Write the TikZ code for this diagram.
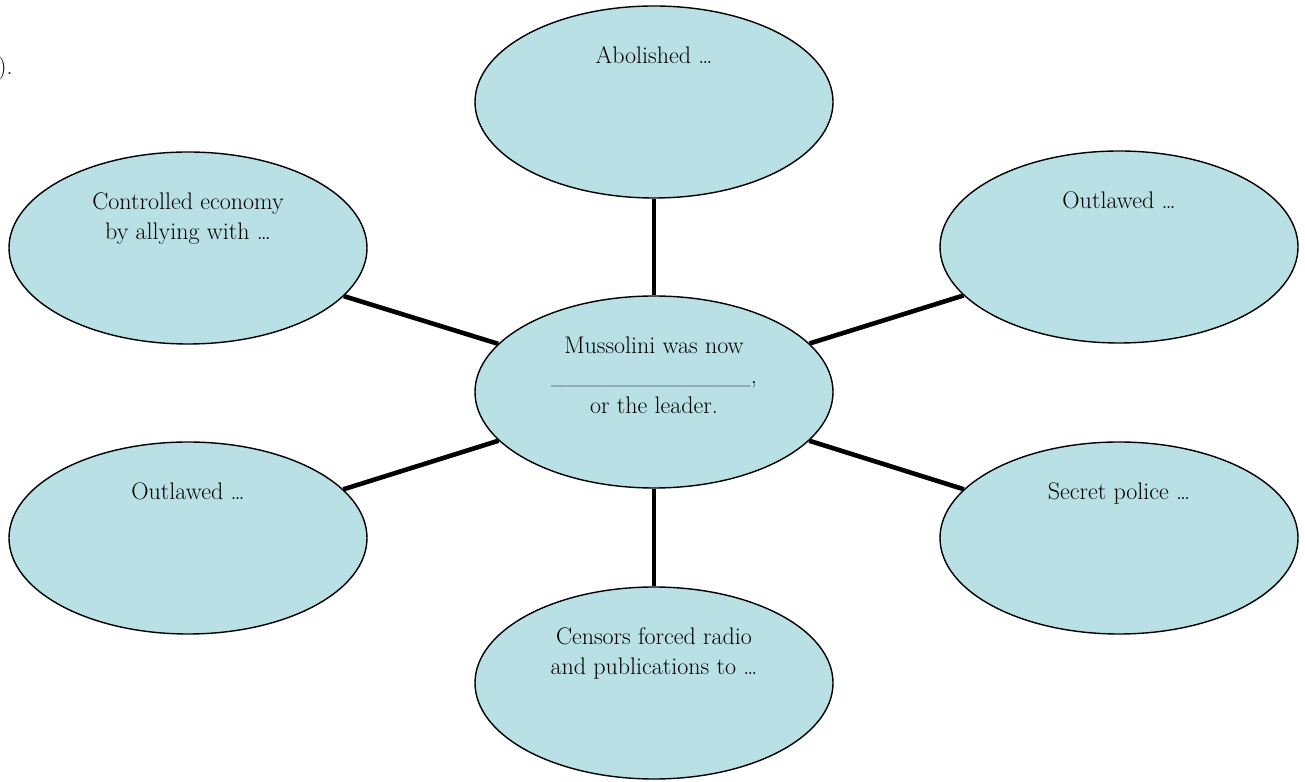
\documentclass[tikz,border=0pt]{standalone}
\usetikzlibrary{positioning,shapes.geometric}
\definecolor{Bubble}{HTML}{B9E0E4}

\begin{document}
\begin{tikzpicture}[x=1pt,y=1pt,node distance=41pt,
    bubble/.style={draw,ellipse,fill=Bubble,line width=1.4pt,minimum width=358pt,minimum height=192pt,inner sep=0pt},
    spoke/.style={line width=4.6pt},
    txt/.style={font=\fontsize{24}{30}\selectfont,align=center,inner sep=0pt}]
    \useasboundingbox (0,0) rectangle (1305,781);
    % the hub and its six bubbles
    \node[bubble] (ctr) at (654,389) {};
    \node[bubble,on grid,above=290pt of ctr] (abol) {};
    \node[bubble,on grid,below=291pt of ctr] (cens) {};
    \node[bubble,on grid,above left=144pt and 466pt of ctr] (econ) {};
    \node[bubble,on grid,above right=145pt and 465pt of ctr] (outR) {};
    \node[bubble,on grid,below left=146pt and 466pt of ctr] (outL) {};
    \node[bubble,on grid,below right=146pt and 465pt of ctr] (secP) {};
    \foreach \n in {abol,econ,outR,outL,secP,cens}
      \draw[spoke] (ctr) -- (\n);
    % texts sit near the top of each bubble
    \node[txt,below=of ctr.north] (ctrT) {Mussolini was now\\\_\_\_\_\_\_\_\_\_\_\_\_,\\or the leader.};
    \node[txt,below=of abol.north] (abolT) {Abolished \ldots};
    \node[txt,below=of econ.north] (econT) {Controlled economy\\by allying with \ldots};
    \node[txt,below=of outR.north] (outRT) {Outlawed \ldots};
    \node[txt,below=of outL.north] (outLT) {Outlawed \ldots};
    \node[txt,below=of secP.north] (secPT) {Secret police \ldots};
    \node[txt,below=of cens.north] (censT) {Censors forced radio\\and publications to \ldots};
    \node[txt,anchor=base west] (frag) at (-2,706) {).};
  \end{tikzpicture}
\end{document}
